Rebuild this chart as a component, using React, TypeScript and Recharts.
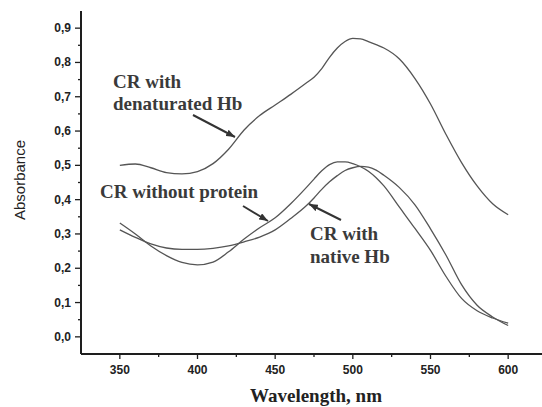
import React from "react";
import { LineChart, Line, XAxis, YAxis } from "recharts";

// wavelength, nm
const wavelengths = [
  350, 360, 370, 380, 390, 400, 410, 420, 430, 440, 450, 460, 470, 475, 480, 485,
  490, 495, 500, 505, 510, 515, 520, 530, 540, 550, 560, 570, 580, 590, 600,
];
// CR with denaturated Hb
const denaturatedHb = [
  0.5, 0.504, 0.493, 0.479, 0.475, 0.482, 0.505, 0.547, 0.603, 0.645, 0.676,
  0.707, 0.74, 0.757, 0.782, 0.815, 0.842, 0.861, 0.87, 0.869, 0.861, 0.852,
  0.842, 0.81, 0.753, 0.679, 0.59, 0.508, 0.44, 0.388, 0.356,
];
// CR without protein
const withoutProtein = [
  0.332, 0.3, 0.265, 0.237, 0.217, 0.21, 0.218, 0.248, 0.285, 0.318, 0.347,
  0.388, 0.435, 0.46, 0.484, 0.502, 0.51, 0.51, 0.505, 0.496, 0.483, 0.464,
  0.44, 0.378, 0.316, 0.252, 0.176, 0.112, 0.076, 0.055, 0.04,
];
// CR with native Hb
const nativeHb = [
  0.312, 0.29, 0.271, 0.259, 0.255, 0.255, 0.258, 0.265, 0.277, 0.291, 0.312,
  0.345, 0.382, 0.405, 0.43, 0.452, 0.47, 0.485, 0.493, 0.497, 0.495, 0.486,
  0.471, 0.435, 0.385, 0.315, 0.238, 0.152, 0.092, 0.058, 0.033,
];

const xTicks = [350, 375, 400, 425, 450, 475, 500, 525, 550, 575, 600];
const yTicks = [
  0, 0.05, 0.1, 0.15, 0.2, 0.25, 0.3, 0.35, 0.4, 0.45, 0.5, 0.55, 0.6, 0.65,
  0.7, 0.75, 0.8, 0.85, 0.9,
];

const data = wavelengths.map((w, i) => ({
  w,
  den: denaturatedHb[i],
  free: withoutProtein[i],
  nat: nativeHb[i],
}));

const INK = "#1e1e1e";
const CURVE = "#555";
const SANS = "'Liberation Sans', Arial, sans-serif";
const SERIF = "'Liberation Serif', 'Times New Roman', serif";

function XTick({ x, y, payload }: any) {
  const v = payload.value;
  const major = v % 50 === 0;
  return (
    <g>
      <line x1={x} x2={x} y1={y} y2={y + (major ? 5 : 3)} stroke={INK} strokeWidth={1.3} />
      {major && (
        <text x={x} y={y + 20} textAnchor="middle" fontFamily={SANS} fontWeight="bold" fontSize={12} fill="#222">
          {v}
        </text>
      )}
    </g>
  );
}

function YTick({ x, y, payload }: any) {
  const v = payload.value;
  const major = Math.round(v * 100) % 10 === 0;
  return (
    <g>
      <line x1={x - (major ? 6 : 3)} x2={x} y1={y} y2={y} stroke={INK} strokeWidth={1.3} />
      {major && (
        <text x={x - 10} y={y + 4} textAnchor="end" fontFamily={SANS} fontWeight="bold" fontSize={12} fill="#222">
          {v.toFixed(1).replace(".", ",")}
        </text>
      )}
    </g>
  );
}

export default function App() {
  return (
    <div
      style={{
        position: "fixed",
        left: 0,
        top: 0,
        width: 542,
        height: 407,
        overflow: "hidden",
        background: "#fff",
      }}
    >
      <LineChart
        width={560}
        height={407}
        data={data}
        margin={{ top: 11, right: 13, left: 21, bottom: 23 }}
      >
        <XAxis
          dataKey="w"
          type="number"
          domain={[325, 625]}
          ticks={xTicks}
          interval={0}
          height={30}
          tickSize={0}
          tickMargin={0}
          tickLine={false}
          axisLine={{ stroke: INK, strokeWidth: 2 }}
          tick={<XTick />}
        />
        <YAxis
          type="number"
          domain={[-0.05, 0.95]}
          ticks={yTicks}
          interval={0}
          width={60}
          tickSize={0}
          tickMargin={0}
          tickLine={false}
          axisLine={{ stroke: INK, strokeWidth: 2 }}
          tick={<YTick />}
          allowDataOverflow
        />
        <Line dataKey="den" type="monotone" stroke={CURVE} strokeWidth={1.3} dot={false} isAnimationActive={false} />
        <Line dataKey="free" type="monotone" stroke={CURVE} strokeWidth={1.3} dot={false} isAnimationActive={false} />
        <Line dataKey="nat" type="monotone" stroke={CURVE} strokeWidth={1.3} dot={false} isAnimationActive={false} />
      </LineChart>
      <svg
        width={542}
        height={407}
        style={{ position: "absolute", left: 0, top: 0, pointerEvents: "none" }}
      >
        <defs>
          <marker id="ah" markerUnits="userSpaceOnUse" markerWidth={9} markerHeight={7} refX={9} refY={3.5} orient="auto">
            <path d="M0,0 L9,3.5 L0,7 z" fill="#333" />
          </marker>
        </defs>
        <text
          transform="translate(25,180) rotate(-90)"
          textAnchor="middle"
          fontFamily={SANS}
          fontSize={15}
          fill="#222"
        >
          Absorbance
        </text>
        <text x={316} y={402} textAnchor="middle" fontFamily={SERIF} fontWeight="bold" fontSize={19} fill="#222">
          Wavelength, nm
        </text>
        <g fontFamily={SERIF} fontWeight="bold" fontSize={19} fill="#3a3a3a">
          <text x={113} y={88}>CR with</text>
          <text x={113} y={110}>denaturated Hb</text>
          <text x={100} y={198}>CR without protein</text>
          <text x={310} y={240}>CR with</text>
          <text x={310} y={263}>native Hb</text>
        </g>
        <g stroke="#333" strokeWidth={2}>
          <line x1={193} y1={115} x2={235} y2={137} markerEnd="url(#ah)" />
          <line x1={243} y1={206} x2={268} y2={221} markerEnd="url(#ah)" />
          <line x1={341} y1={220} x2={309} y2={204} markerEnd="url(#ah)" />
        </g>
      </svg>
    </div>
  );
}
